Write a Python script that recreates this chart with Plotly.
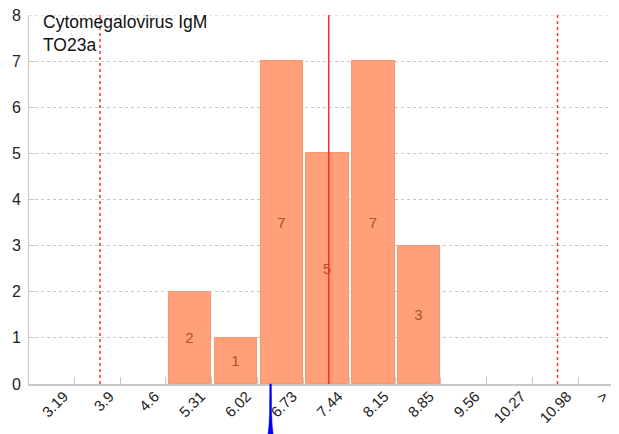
import plotly.graph_objects as go

bin_edges = [3.19, 3.9, 4.6, 5.31, 6.02, 6.73, 7.44, 8.15, 8.85, 9.56, 10.27, 10.98]
counts = [0, 0, 2, 1, 7, 5, 7, 3, 0, 0, 0]
tick_labels = ["3.19", "3.9", "4.6", "5.31", "6.02", "6.73", "7.44", "8.15", "8.85", "9.56", "10.27", "10.98", ">"]
mean_value = 7.12
lower_limit = 3.58
upper_limit = 10.66
sample_value = 6.22
title_lines = ["Cytomegalovirus IgM", "TO23a"]

step = 0.7083
x_min = bin_edges[0] - step
x_max = 11.55
y_max = 8

# only non-empty bins get a bar; bars start a few px after the bin edge
lefts, widths, heights = [], [], []
for i, c in enumerate(counts):
    if c > 0:
        lefts.append(bin_edges[i])
        widths.append(bin_edges[i + 1] - bin_edges[i] - 0.055)
        heights.append(c)

fig = go.Figure()
fig.add_trace(go.Bar(
    x=lefts, y=heights, width=widths, offset=0.045,
    marker=dict(color="#ffa07a", line=dict(color="#f59873", width=1)),
    text=[str(h) for h in heights], textposition="inside", insidetextanchor="middle",
    textfont=dict(color="#b0512c", size=15, family="Liberation Sans, Arial"),
    hoverinfo="skip", showlegend=False,
))

shapes = []
# top gridline (plotly drops the one on the plot edge)
shapes.append(dict(type="line", xref="paper", yref="y", x0=0, x1=1, y0=y_max, y1=y_max,
                   line=dict(color="#c8c8c8", width=1, dash="dot"), layer="below"))
shapes.append(dict(type="line", xref="x", yref="y", x0=mean_value, x1=mean_value, y0=0, y1=y_max,
                   line=dict(color="#ff2a2a", width=1.5)))
for v in [lower_limit, upper_limit]:
    shapes.append(dict(type="line", xref="x", yref="y", x0=v, x1=v, y0=0, y1=y_max,
                       line=dict(color="#ff3030", width=1.5, dash="dot")))

# blue spike marker below the axis
s = sample_value
spike = (f"M {s-0.012},0 L {s+0.012},0 L {s+0.016},-0.08 "
         f"Q {s+0.025},-0.14 {s+0.08},-0.17 L {s-0.08},-0.17 "
         f"Q {s-0.025},-0.14 {s-0.016},-0.08 Z")
shapes.append(dict(type="path", xref="x", yref="paper", path=spike,
                   fillcolor="#0000ee", line=dict(color="#0000ee", width=0.5)))

tickvals = bin_edges + [x_max]

# page body has an 8px margin, so the figure is sized/offset for that
fig.update_layout(
    width=611, height=426,
    margin=dict(l=21, r=4, t=7, b=50),
    plot_bgcolor="white", paper_bgcolor="white",
    font=dict(family="Liberation Sans, Arial", size=15, color="#222"),
    bargap=0,
    shapes=shapes,
    annotations=[dict(
        text="<br>".join(title_lines), xref="paper", yref="paper",
        x=0.02, y=1.014, xanchor="left", yanchor="top", align="left",
        showarrow=False, font=dict(size=17.5, color="#111"),
    )],
    xaxis=dict(
        range=[x_min, x_max], tickvals=tickvals, ticktext=tick_labels,
        tickangle=-45, ticks="inside", ticklen=7, tickcolor="#c8c8c8",
        ticklabelshift=-11, ticklabelstandoff=-4,
        showline=True, linecolor="#c8c8c8", linewidth=1.5, automargin=False,
        showgrid=False, zeroline=False, tickfont=dict(size=15, color="#222"),
    ),
    yaxis=dict(
        range=[0, y_max], dtick=1, ticks="inside", ticklen=5, tickcolor="#c8c8c8",
        ticklabelstandoff=4, ticklabeloverflow="allow",
        showline=True, linecolor="#c8c8c8", linewidth=1, automargin=False,
        showgrid=True, gridcolor="#c8c8c8", griddash="dot", zeroline=False,
        tickfont=dict(size=16, color="#222"),
    ),
)

fig.write_html("out.html")
